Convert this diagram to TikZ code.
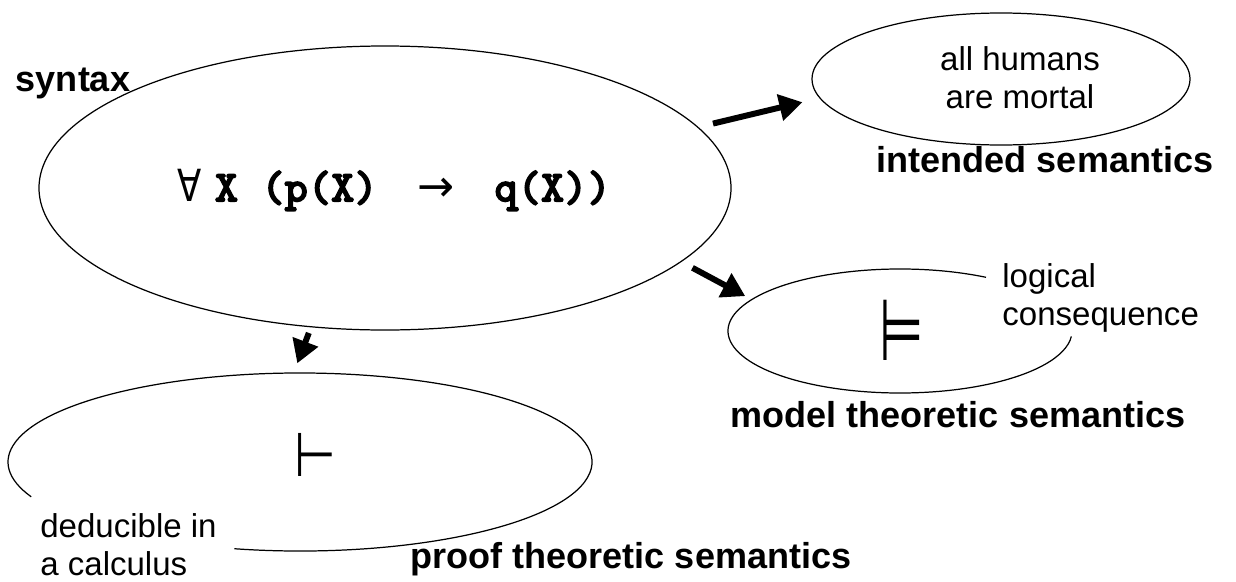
\documentclass[tikz,border=0pt]{standalone}
\usepackage{fontspec}
\setmainfont{Liberation Sans}
\newfontfamily\symfont{DejaVu Sans}
\newfontfamily\codefont{lmmonolt10-bold.otf}[FakeBold=3]
\usetikzlibrary{arrows.meta,shapes.geometric}

\begin{document}
\begin{tikzpicture}[
  bubble/.style={ellipse,draw,line width=0.7pt,inner sep=0pt},
  hole/.style={ellipse,inner sep=0pt},
  title/.style={font=\fontsize{20.5}{24}\selectfont\bfseries,inner sep=0pt},
  note/.style={font=\fontsize{18.8}{21.6}\selectfont,inner sep=0pt},
  turnstile/.style={font=\fontsize{35}{40}\selectfont\symfont,inner sep=0pt},
  fat/.style={-{Triangle[length=0.46cm,width=0.52cm]},line width=3.4pt}]
\useasboundingbox (0,0) rectangle (24.72,11.62);
% syntax
\node[bubble,minimum width=13.84cm,minimum height=5.68cm] (syn) at (7.70,7.86) {};
\node[font=\fontsize{25.2}{30}\selectfont\codefont,inner sep=0pt] (form) at (7.88,7.82)
  {{\symfont\scalebox{0.8}[1]{∀}}\hspace{0.3em}X (p(X)\hspace{0.9em}{\symfont →}\hspace{0.9em}q(X))};
\node[title] (synlab) at (1.46,9.96) {syntax};
% intended semantics
\node[bubble,minimum width=7.56cm,minimum height=2.64cm] (int) at (20.02,10.04) {};
\node[note,align=center] (inttxt) at (20.40,10.06) {all humans\\are mortal};
\node[title] (intlab) at (20.90,8.42) {intended semantics};
% model theoretic semantics
\node[hole,minimum width=6.88cm,minimum height=2.48cm] (mod) at (18.00,5.00) {};
\draw[line width=0.7pt] ([shift={(60:3.44cm and 1.24cm)}]mod.center)
  arc[start angle=60,end angle=355,x radius=3.44cm,y radius=1.24cm];
\node[turnstile] (modsym) at (18.04,5.02) {\scalebox{0.83}[1.4]{⊨}};
\node[note,align=left,anchor=north west] (modtxt) at (20.04,6.36) {logical\\consequence};
\node[title] (modlab) at (19.16,3.32) {model theoretic semantics};
% proof theoretic semantics
\node[hole,minimum width=11.68cm,minimum height=3.56cm] (prf) at (6.00,2.38) {};
\draw[line width=0.7pt] ([shift={(257:5.84cm and 1.78cm)}]prf.center)
  arc[start angle=257,end angle=563,x radius=5.84cm,y radius=1.78cm];
\node[turnstile] (prfsym) at (6.30,2.52) {\scalebox{0.78}[1]{⊢}};
\node[note,align=left,anchor=north west] (prftxt) at (0.80,1.36) {deducible in\\a calculus};
\node[title] (prflab) at (12.62,0.44) {proof theoretic semantics};
% arrows
\draw[fat,shorten <=0.3cm,shorten >=0.35cm] (syn.11) -- (int.186);
\draw[fat,shorten <=0.25cm,shorten >=0.14cm] (syn.-14.5) -- (mod.168);
\draw[fat,shorten <=0.12cm,shorten >=0.2cm] (syn.242) -- (prf.94);
\end{tikzpicture}
\end{document}
